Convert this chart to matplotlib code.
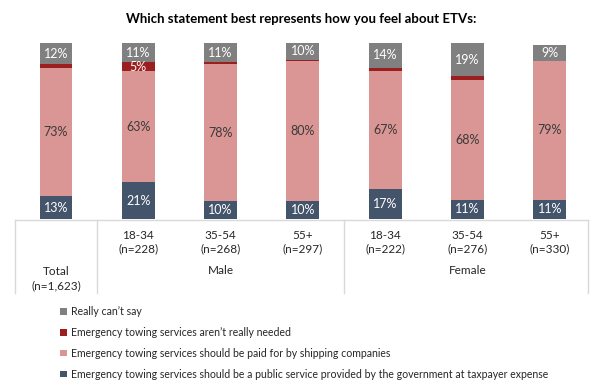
import numpy as np
import matplotlib
matplotlib.use("Agg")
import matplotlib.pyplot as plt
from matplotlib.patches import Patch

plt.rcParams['font.family'] = ['Lato', 'DejaVu Sans']

# data (percent)
ages = ["18-34\n(n=228)", "35-54\n(n=268)", "55+\n(n=297)",
        "18-34\n(n=222)", "35-54\n(n=276)", "55+\n(n=330)"]
total_label = "Total\n(n=1,623)"
groups = ["Male", "Female"]

public = [13, 21, 10, 10, 17, 11, 11]
shipping = [73, 63, 78, 80, 67, 68, 79]
not_needed = [2, 5, 1, 0.6, 2, 2, 0]
cant_say = [12, 11, 11, 10, 14, 19, 9]

series_names = [
    "Emergency towing services should be a public service provided by the government at taxpayer expense",
    "Emergency towing services should be paid for by shipping companies",
    "Emergency towing services aren\u2019t really needed",
    "Really can\u2019t say",
]
colors = ["#44546A", "#DA9694", "#9C1F1F", "#808080"]
label_colors = ["white", "#3A3A3A", "white", "white"]

fig = plt.figure(figsize=(6.02, 3.91), dpi=100)
W, H = 602, 391
ax = fig.add_axes([15 / W, 1 - 219 / H, 573 / W, 176 / H])

x = np.arange(7)
series = [public, shipping, not_needed, cant_say]
bottom = np.zeros(7)
for vals, c, lc in zip(series, colors, label_colors):
    vals = np.array(vals, dtype=float)
    ax.bar(x, vals, width=0.4, bottom=bottom, color=c, edgecolor="none")
    for xi, v, b in zip(x, vals, bottom):
        if v >= 5:
            ax.text(xi, b + v / 2, f"{v:.0f}%", ha="center", va="center",
                    color=lc, fontsize=9)
    bottom += vals

ax.set_xlim(-0.498, 6.465)
ax.set_ylim(0, 100)
ax.axis("off")

fig.text(0.5, 1 - 19 / H, "Which statement best represents how you feel about ETVs:",
         ha="center", va="center", fontsize=9.5, fontweight="bold", color="black")

# table below bars
tr = ax.get_xaxis_transform()
lc = "#D9D9D9"
ax.plot([-0.498, 6.465], [-0.004, -0.004], color=lc, lw=1, transform=tr, clip_on=False)
for xv in [-0.498, 0.5, 3.5, 6.465]:
    ax.plot([xv, xv], [-0.004, -0.42], color=lc, lw=1, transform=tr, clip_on=False)

for xi, lab in zip(x[1:], ages):
    ax.text(xi, -0.13, lab, ha="center", va="center", fontsize=8.5,
            color="#262626", transform=tr, linespacing=1.3)
ax.text(0, -0.338, total_label, ha="center", va="center", fontsize=8.5,
        color="#262626", transform=tr, linespacing=1.3)
ax.text(2, -0.295, groups[0], ha="center", va="center", fontsize=8.5,
        color="#262626", transform=tr)
ax.text(5, -0.295, groups[1], ha="center", va="center", fontsize=8.5,
        color="#262626", transform=tr)

handles = [Patch(facecolor=c, edgecolor="none") for c in colors]
leg = fig.legend(handles[::-1], series_names[::-1], loc="upper left",
                 bbox_to_anchor=(56 / W, 1 - 302 / H), frameon=False,
                 fontsize=7.6, handlelength=0.6, handleheight=0.6,
                 handletextpad=0.4, labelspacing=0.93, borderaxespad=0)
for t in leg.get_texts():
    t.set_color("#262626")

fig.savefig("out.png", dpi=100)
